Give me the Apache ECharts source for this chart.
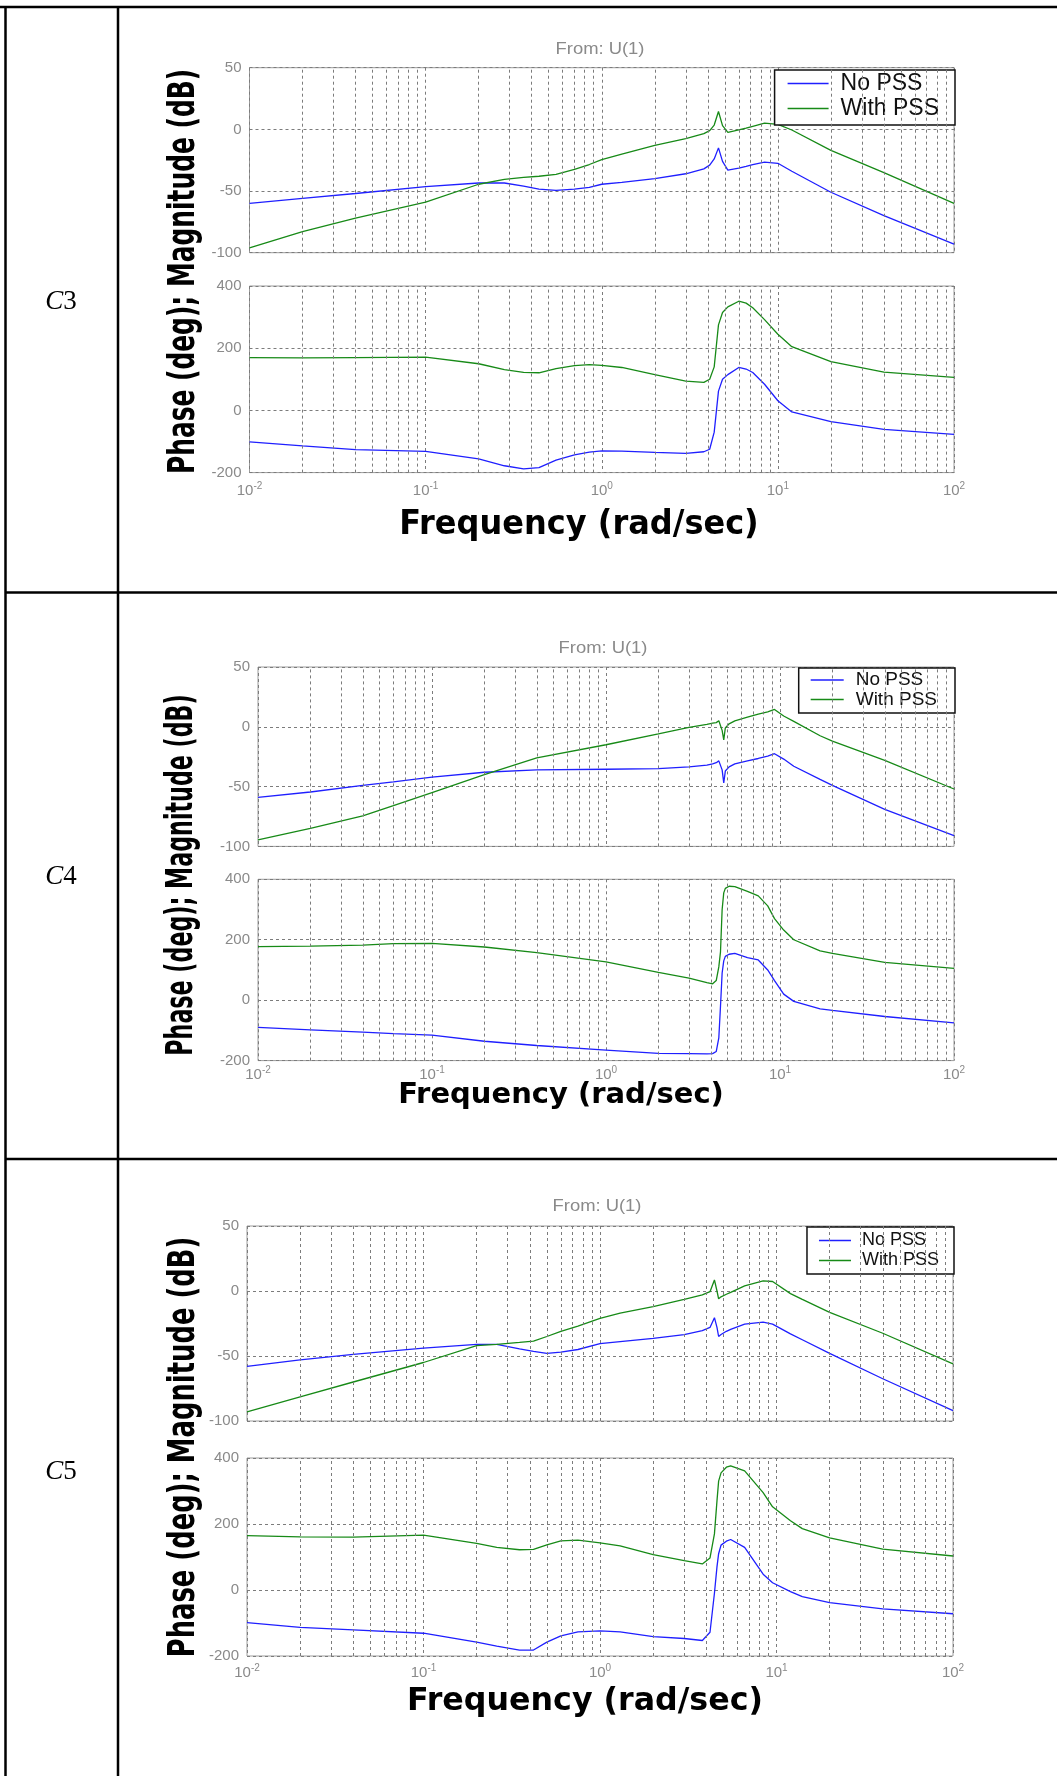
<!DOCTYPE html>
<html>
<head>
<meta charset="utf-8">
<script src="https://cdn.jsdelivr.net/npm/echarts@6/dist/echarts.min.js"></script>
<style>
  html, body { margin: 0; padding: 0; background: #ffffff; }
  #chart { width: 1057px; height: 1776px; }
</style>
</head>
<body>
<div id="chart"></div>
<script>
// Bode responses (magnitude in dB, phase in deg) for cases C3, C4, C5

const c3Freq = [0.01, 0.02, 0.04, 0.1, 0.2, 0.28, 0.36, 0.44, 0.55, 0.7, 0.85, 1.0, 1.3, 2, 3, 3.8, 4.1, 4.35, 4.6, 4.85, 5.2, 6.0, 6.6, 7.2, 8.4, 10, 12, 20, 40, 100];
const c3MagNoPss = [-60, -56, -52, -46.5, -43.5, -43.5, -46, -48.5, -49.5, -48.5, -47, -44.5, -43, -40, -36, -32, -29, -24, -15, -26, -33, -31.5, -30, -28.5, -26.5, -27.5, -34, -51, -70, -93];
const c3MagWithPss = [-96, -83, -72, -59, -44.5, -40.5, -39, -38, -36.5, -32.5, -28.5, -24.5, -20, -13, -7.5, -3.5, -1, 3.5, 14.5, 3, -2.5, -0.5, 1, 2.5, 5, 4, -0.5, -17, -35, -60];
const c3PhaseNoPss = [-101, -114, -126, -132, -156, -178, -188, -184, -160, -143, -134, -130, -131, -135, -138, -133, -125, -70, 62, 100, 115, 138, 133, 122, 84, 31, -5, -36, -61, -77];
const c3PhaseWithPss = [170, 169, 170, 171, 150, 131, 122, 121, 134, 144, 147, 145, 138, 115, 94, 90, 100, 140, 275, 315, 333, 351, 345, 330, 292, 245, 205, 157, 123, 106];

const c4Freq = [0.01, 0.02, 0.04, 0.06, 0.1, 0.2, 0.4, 1, 2, 3, 3.8, 4.1, 4.3, 4.45, 4.55, 4.65, 4.75, 4.85, 5.1, 5.5, 6.5, 7.5, 8.5, 9.3, 10.5, 12, 17, 20, 40, 100];
const c4MagNoPss = [-59, -54.5, -49, -46, -42, -38, -36, -35.5, -35, -33.5, -32, -31, -30, -28.5, -27.5, -36, -47, -37, -33.5, -31, -28.5, -26.5, -24.5, -22.5, -27, -33, -44, -49, -69, -91];
const c4MagWithPss = [-94.5, -85, -74.5, -66, -55, -40, -26, -15, -6, -0.5, 2, 3, 3.5, 5, 6.5, -3, -11, -1, 2.5, 5, 8, 10.5, 12.5, 14.5, 9, 4.5, -7.5, -12, -28, -52];
const c4PhaseNoPss = [-90, -98, -106, -111, -116, -136, -150, -165, -176, -177, -178, -177, -170, -125, -20, 90, 130, 145, 152, 155, 141, 133, 100, 65, 20, -4, -29, -34, -54, -75];
const c4PhaseWithPss = [177, 179, 182, 187, 188, 176, 157, 127, 92, 73, 58, 54, 65, 110, 160, 300, 355, 370, 377, 376, 360, 345, 312, 270, 232, 200, 163, 155, 125, 105];

const c5Freq = [0.01, 0.02, 0.04, 0.1, 0.2, 0.26, 0.35, 0.42, 0.5, 0.6, 0.75, 1, 1.3, 2, 3, 3.8, 4.2, 4.45, 4.6, 4.7, 4.85, 5.2, 5.5, 6.6, 8.4, 9.5, 12, 14, 20, 40, 100];
const c5MagNoPss = [-58, -53, -48.7, -44, -41, -41, -44.6, -46.4, -48, -47, -45, -40.5, -39, -36.5, -33.5, -30.5, -28, -20.5, -28, -35, -33.5, -31, -29.5, -25.5, -24, -25.5, -33, -37.5, -48, -67.5, -92];
const c5MagWithPss = [-93, -81.5, -70, -55, -42, -41, -39.5, -38.5, -35, -31, -27, -21, -17, -12, -6.5, -3, -0.5, 8.5, 0, -6, -4.5, -2.5, -1, 4, 7.8, 7.3, -2, -6.5, -16.5, -32.5, -56];
const c5PhaseNoPss = [-99, -113, -121, -131, -158, -170, -182, -182, -158, -139, -127, -124, -127, -141, -147, -153, -128, -10, 70, 110, 136, 148, 153, 129, 48, 22, -5, -20, -38, -57, -72];
const c5PhaseWithPss = [165, 161, 160, 166, 141, 129, 122, 123, 137, 149, 151, 143, 134, 107, 89, 79, 97, 170, 270, 330, 355, 372, 376, 361, 295, 252, 210, 186, 158, 124, 103];

const seriesNames = ['No PSS', 'With PSS'];
const seriesColors = ['#1f1fff', '#178a17'];
const magTicks = { min: -100, max: 50, interval: 50 };
const phaseTicks = { min: -200, max: 400, interval: 200 };
const freqRange = { min: 0.01, max: 100 };

// minor log-grid positions 2..9 within each decade
const minorFreqs = [];
for (let d = -2; d < 2; d++) {
  for (let k = 2; k <= 9; k++) minorFreqs.push(+(k * Math.pow(10, d)).toPrecision(3));
}

// layout of each table row
const panels = [
  { tag: '3', freq: c3Freq, mag: [c3MagNoPss, c3MagWithPss], phase: [c3PhaseNoPss, c3PhaseWithPss],
    left: 249.5, width: 704.5, magTop: 67.7, magH: 185, phTop: 286, phH: 186.6, xLabelMargin: 9,
    titleX: 600, titleY: 50, tagY: 302,
    yName: { x: 184, y: 271.5, size: 38, scale: 0.655 },
    xName: { x: 579, y: 525, size: 33, scale: 0.97 },
    legend: { top: 70, font: 23, icon: 41, padL: 13, textPad: 7, padR: 16, lh: 22, gap: 2, padT: 2, padB: 5 } },
  { tag: '4', freq: c4Freq, mag: [c4MagNoPss, c4MagWithPss], phase: [c4PhaseNoPss, c4PhaseWithPss],
    left: 258, width: 696, magTop: 667, magH: 179.4, phTop: 879.3, phH: 181.3, xLabelMargin: 5,
    titleX: 603, titleY: 649, tagY: 877,
    yName: { x: 182, y: 875, size: 37, scale: 0.6 },
    xName: { x: 561, y: 1095, size: 29, scale: 1.0 },
    legend: { top: 668, font: 19, icon: 33, padL: 12, textPad: 7, padR: 18, lh: 17, gap: 0.5, padT: 2.5, padB: 4 } },
  { tag: '5', freq: c5Freq, mag: [c5MagNoPss, c5MagWithPss], phase: [c5PhaseNoPss, c5PhaseWithPss],
    left: 247, width: 706, magTop: 1226, magH: 195, phTop: 1458, phH: 198, xLabelMargin: 7,
    titleX: 597, titleY: 1207, tagY: 1472,
    yName: { x: 184, y: 1447, size: 38, scale: 0.68 },
    xName: { x: 585, y: 1702, size: 32, scale: 0.99 },
    legend: { top: 1227, font: 18, icon: 32, padL: 12, textPad: 6, padR: 15, lh: 17, gap: 2, padT: 4.5, padB: 4.5 } }
];

const gridLineStyle = { color: '#7c7c7c', type: [3, 3], width: 1 };
const tickLabelColor = '#8a8a8a';

const grids = [], xAxes = [], yAxes = [], series = [], legends = [], graphics = [];

panels.forEach(function (p) {
  const blocks = [
    { top: p.magTop, h: p.magH, ticks: magTicks, values: p.mag, showX: false },
    { top: p.phTop, h: p.phH, ticks: phaseTicks, values: p.phase, showX: true }
  ];
  blocks.forEach(function (b) {
    const gi = grids.length;
    grids.push({ left: p.left, top: b.top, width: p.width, height: b.h, show: true,
      borderColor: '#9c9c9c', borderWidth: 1, backgroundColor: 'transparent' });
    xAxes.push({
      type: 'log', logBase: 10, gridIndex: gi, min: freqRange.min, max: freqRange.max,
      axisLine: { show: false }, axisTick: { show: false },
      axisLabel: {
        show: b.showX, margin: p.xLabelMargin, color: tickLabelColor,
        formatter: function (v) { return '{b|10}{s|' + Math.round(Math.log10(v)) + '}'; },
        rich: {
          b: { fontSize: 15, color: tickLabelColor, fontFamily: 'Liberation Sans' },
          s: { fontSize: 10, color: tickLabelColor, fontFamily: 'Liberation Sans', padding: [0, 0, 9, 0] }
        }
      },
      splitLine: { show: true, lineStyle: gridLineStyle }
    });
    yAxes.push({
      type: 'value', gridIndex: gi, min: b.ticks.min, max: b.ticks.max, interval: b.ticks.interval,
      axisLine: { show: false }, axisTick: { show: false },
      axisLabel: { color: tickLabelColor, fontSize: 15, margin: 8, fontFamily: 'Liberation Sans' },
      splitLine: { show: true, lineStyle: gridLineStyle }
    });
    // minor decade grid
    series.push({
      type: 'line', xAxisIndex: gi, yAxisIndex: gi, data: [], silent: true, z: 1,
      markLine: {
        silent: true, symbol: ['none', 'none'], label: { show: false }, animation: false,
        lineStyle: gridLineStyle,
        data: minorFreqs.map(function (f) { return { xAxis: f }; })
      }
    });
    b.values.forEach(function (vals, si) {
      series.push({
        name: seriesNames[si], type: 'line', xAxisIndex: gi, yAxisIndex: gi, z: 3,
        symbol: 'none', showSymbol: false,
        lineStyle: { color: seriesColors[si], width: 1.3 },
        itemStyle: { color: seriesColors[si] },
        data: p.freq.map(function (f, i) { return [f, vals[i]]; })
      });
    });
  });

  const L = p.legend;
  legends.push({
    data: seriesNames, orient: 'vertical', right: 1057 - (p.left + p.width) - 1, top: L.top,
    icon: 'rect', itemWidth: L.icon, itemHeight: 1.4, itemGap: L.gap,
    backgroundColor: '#ffffff', borderColor: '#111111', borderWidth: 1.5, borderRadius: 0,
    padding: [L.padT, L.padR, L.padB, L.padL], selectedMode: false,
    textStyle: { fontSize: L.font, lineHeight: L.lh, color: '#111111', fontFamily: 'Liberation Sans',
      padding: [0, 0, 0, L.textPad] }
  });

  graphics.push({
    type: 'text', x: p.titleX, y: p.titleY, scaleX: 1.15, silent: true,
    style: { text: 'From: U(1)', fontSize: 16, fontFamily: 'Liberation Sans', fill: '#8a8a8a',
      align: 'center', verticalAlign: 'middle' }
  });
  graphics.push({
    type: 'text', x: p.yName.x, y: p.yName.y, rotation: Math.PI / 2, scaleX: p.yName.scale, silent: true,
    style: { text: 'Phase (deg); Magnitude (dB)', fontSize: p.yName.size, fontWeight: 'bold',
      fontFamily: 'DejaVu Sans', fill: '#000000', align: 'center', verticalAlign: 'middle' }
  });
  graphics.push({
    type: 'text', x: p.xName.x, y: p.xName.y, scaleX: p.xName.scale, silent: true,
    style: { text: 'Frequency (rad/sec)', fontSize: p.xName.size, fontWeight: 'bold',
      fontFamily: 'DejaVu Sans', fill: '#000000', align: 'center', verticalAlign: 'middle' }
  });
  graphics.push({
    type: 'text', x: 61, y: p.tagY, silent: true,
    style: {
      text: '{i|C}{n|' + p.tag + '}', align: 'center', verticalAlign: 'middle',
      rich: {
        i: { fontSize: 27, fontStyle: 'italic', fontFamily: 'Liberation Serif', fill: '#000000' },
        n: { fontSize: 27, fontFamily: 'Liberation Serif', fill: '#000000' }
      }
    }
  });
});

// table rules
const rule = { stroke: '#000000', lineWidth: 2.5 };
[
  [0, 7, 1057, 7], [5.5, 6, 5.5, 1776], [118, 6, 118, 1776],
  [5, 592.5, 1057, 592.5], [5, 1159, 1057, 1159]
].forEach(function (s) {
  graphics.push({ type: 'line', silent: true, shape: { x1: s[0], y1: s[1], x2: s[2], y2: s[3] }, style: rule });
});

const chart = echarts.init(document.getElementById('chart'), null, { renderer: 'canvas' });
chart.setOption({
  animation: false,
  backgroundColor: '#ffffff',
  grid: grids,
  xAxis: xAxes,
  yAxis: yAxes,
  legend: legends,
  series: series,
  graphic: graphics
});
</script>
</body>
</html>
